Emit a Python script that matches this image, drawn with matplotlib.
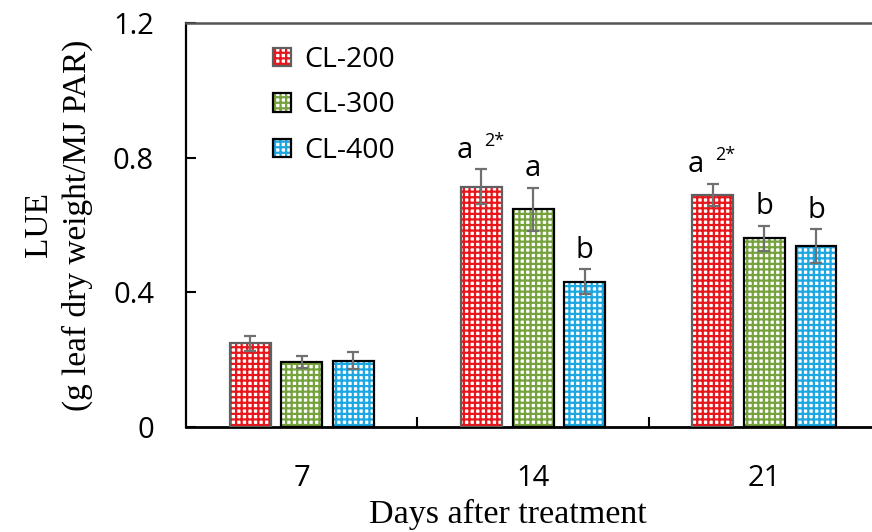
import numpy as np
import matplotlib
matplotlib.use('Agg')
import matplotlib.pyplot as plt
from matplotlib.patches import Rectangle
from matplotlib.legend_handler import HandlerTuple

# Данные
days = ['7', '14', '21']
groups = ['CL-200', 'CL-300', 'CL-400']
lue = {
    'CL-200': [0.248, 0.714, 0.689],
    'CL-300': [0.193, 0.646, 0.560],
    'CL-400': [0.197, 0.432, 0.538],
}
err = {
    'CL-200': [0.022, 0.052, 0.034],
    'CL-300': [0.019, 0.065, 0.038],
    'CL-400': [0.026, 0.037, 0.050],
}
letters = {
    'CL-200': ['', 'a', 'a'],
    'CL-300': ['', 'a', 'b'],
    'CL-400': ['', 'b', 'b'],
}
sup = {
    'CL-200': ['', '2*', '2*'],
    'CL-300': ['', '', ''],
    'CL-400': ['', '', ''],
}

hatch_colors = {'CL-200': '#e8161b', 'CL-300': '#76a23e', 'CL-400': '#1ca6e2'}
edge_colors = {'CL-200': '#606060', 'CL-300': '#000000', 'CL-400': '#000000'}

plt.rcParams['hatch.linewidth'] = 1.6
sans = 'Open Sans'
serif = 'Liberation Serif'

fig = plt.figure(figsize=(8.72, 5.32), dpi=100)
ax = fig.add_axes([0.2133, 0.1974, 0.7867, 0.7594])

x = np.arange(len(days))
width = 0.177
step = 0.223

handles = []
for i, g in enumerate(groups):
    pos = x + (i - 1) * step
    # штриховка цветом серии
    ax.bar(pos, lue[g], width, color='white', edgecolor=hatch_colors[g],
           hatch='+++', linewidth=0, zorder=2)
    # контур
    ax.bar(pos, lue[g], width, color='none', edgecolor=edge_colors[g],
           linewidth=1.6, zorder=3)
    ax.errorbar(pos, lue[g], yerr=err[g], fmt='none', ecolor='#707070',
                elinewidth=1.6, capsize=4, capthick=1.6, zorder=4)
    for j in range(len(days)):
        top = lue[g][j] + err[g][j]
        if letters[g][j] and sup[g][j]:
            ax.annotate(letters[g][j], (pos[j], top), xytext=(-12, 3),
                        textcoords='offset points', ha='center', va='bottom',
                        fontsize=21, family=sans)
            ax.annotate(sup[g][j], (pos[j], top), xytext=(9, 14),
                        textcoords='offset points', ha='center', va='bottom',
                        fontsize=13, family=sans)
        elif letters[g][j]:
            ax.annotate(letters[g][j], (pos[j], top), xytext=(0, 3),
                        textcoords='offset points', ha='center', va='bottom',
                        fontsize=21, family=sans)
    hp = Rectangle((0, 0), 1, 1, facecolor='white', edgecolor=hatch_colors[g],
                   hatch='+++', linewidth=0)
    ep = Rectangle((0, 0), 1, 1, facecolor='none', edgecolor=edge_colors[g],
                   linewidth=1.6)
    handles.append((hp, ep))

ax.set_xlim(-0.5, 2.465)
ax.set_ylim(0, 1.2)
ax.set_yticks([0, 0.4, 0.8, 1.2])
ax.set_yticklabels(['0', '0.4', '0.8', '1.2'], family=sans, fontsize=21)
ax.set_xticks(x)
ax.set_xticklabels(days, family=sans, fontsize=21)
ax.tick_params(axis='x', length=0, pad=27)
ax.tick_params(axis='y', direction='in', length=7, width=1.5, pad=23)
ax.set_xticks([0.5, 1.5], minor=True)
ax.tick_params(axis='x', which='minor', direction='in', length=7, width=1.5)

ax.spines['right'].set_visible(False)
ax.spines['top'].set_color('#555555')
ax.spines['top'].set_linewidth(1.8)
ax.spines['left'].set_linewidth(1.6)
ax.spines['bottom'].set_linewidth(2.0)

ax.set_ylabel('LUE\n(g leaf dry weight/MJ PAR)', family=serif, fontsize=24,
              linespacing=1.35)
ax.yaxis.set_label_coords(-0.135, 0.5)
ax.set_xlabel('Days after treatment', family=serif, fontsize=24.5)
ax.xaxis.set_label_coords(0.469, -0.178)

ax.legend(handles, groups, handler_map={tuple: HandlerTuple(ndivide=1)},
          loc='upper left', bbox_to_anchor=(0.09, 1.007), frameon=False,
          prop={'family': sans, 'size': 20.5}, handlelength=0.62,
          handleheight=0.62, handletextpad=0.45, labelspacing=0.62)

fig.savefig('out.png', dpi=100)
